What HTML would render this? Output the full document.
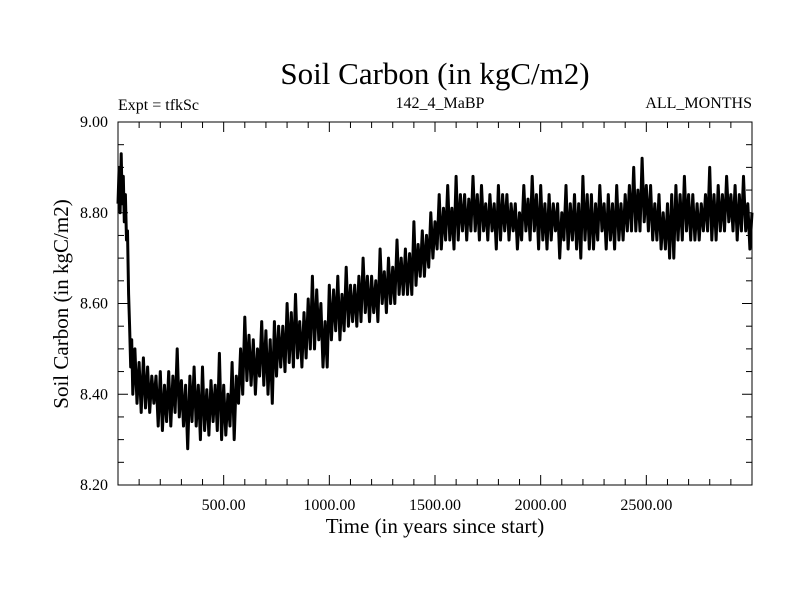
<!DOCTYPE html>
<html><head><meta charset="utf-8"><style>
body{margin:0;background:#fff;}
svg{display:block;font-family:"Liberation Serif",serif;}
</style></head><body>
<svg width="800" height="600" xmlns="http://www.w3.org/2000/svg">
<text x="435" y="84" font-size="31" text-anchor="middle">Soil Carbon (in kgC/m2)</text>
<text x="118" y="110" font-size="16">Expt = tfkSc</text>
<text x="440" y="108" font-size="16" text-anchor="middle">142_4_MaBP</text>
<text x="752" y="108" font-size="16" text-anchor="end">ALL_MONTHS</text>
<text x="435" y="533" font-size="21" text-anchor="middle">Time (in years since start)</text>
<text transform="translate(68,304) rotate(-90)" font-size="21" text-anchor="middle">Soil Carbon (in kgC/m2)</text>
<g id="axes"></g>
<path id="series" fill="none" stroke="#000" stroke-width="3" stroke-linejoin="round"/>
<rect x="118" y="122" width="634" height="363" fill="none" stroke="#000" stroke-width="1"/>
</svg>
<script>
const earlyYears=[0,5,10,15,20,25,30,35,40,45,50,55,60,65,70];
const earlyCarbon=[8.82,8.90,8.80,8.93,8.82,8.88,8.78,8.84,8.74,8.76,8.62,8.55,8.46,8.52,8.40];
const laterStartYear=80;
const laterStep=10;
const laterCarbon=[
8.50,8.38,8.47,8.36,8.48,8.37,8.46,8.36,8.44,8.38,
8.44,8.33,8.45,8.32,8.42,8.34,8.45,8.33,8.44,8.36,
8.50,8.35,8.43,8.33,8.42,8.28,8.44,8.34,8.46,8.33,
8.42,8.30,8.46,8.32,8.41,8.31,8.43,8.34,8.42,8.32,
8.49,8.30,8.42,8.31,8.40,8.33,8.47,8.30,8.44,8.38,
8.50,8.40,8.57,8.43,8.53,8.42,8.52,8.40,8.50,8.44,
8.56,8.42,8.54,8.40,8.52,8.38,8.56,8.44,8.55,8.46,
8.55,8.45,8.60,8.47,8.58,8.46,8.62,8.48,8.56,8.46,
8.58,8.48,8.61,8.50,8.66,8.50,8.63,8.52,8.60,8.46,
8.56,8.46,8.64,8.52,8.63,8.54,8.66,8.52,8.62,8.54,
8.68,8.55,8.64,8.56,8.64,8.55,8.66,8.56,8.70,8.58,
8.66,8.56,8.66,8.58,8.65,8.56,8.72,8.60,8.67,8.58,
8.70,8.60,8.68,8.60,8.74,8.62,8.70,8.62,8.72,8.62,
8.71,8.62,8.78,8.64,8.73,8.66,8.76,8.66,8.75,8.68,
8.80,8.70,8.78,8.72,8.84,8.72,8.81,8.74,8.86,8.74,
8.81,8.72,8.88,8.74,8.84,8.76,8.84,8.74,8.83,8.76,
8.88,8.76,8.84,8.74,8.86,8.76,8.82,8.74,8.84,8.76,
8.82,8.72,8.86,8.74,8.84,8.76,8.84,8.74,8.82,8.76,
8.82,8.72,8.80,8.74,8.86,8.76,8.83,8.74,8.88,8.76,
8.84,8.72,8.86,8.74,8.82,8.72,8.84,8.74,8.82,8.76,
8.82,8.70,8.80,8.74,8.86,8.72,8.82,8.74,8.84,8.72,
8.82,8.70,8.88,8.74,8.84,8.72,8.84,8.72,8.82,8.74,
8.86,8.76,8.82,8.72,8.84,8.74,8.82,8.72,8.86,8.74,
8.82,8.74,8.84,8.76,8.86,8.76,8.90,8.76,8.85,8.76,
8.92,8.78,8.86,8.76,8.86,8.74,8.82,8.74,8.84,8.72,
8.80,8.72,8.82,8.70,8.84,8.70,8.86,8.74,8.84,8.74,
8.88,8.76,8.84,8.74,8.84,8.74,8.82,8.74,8.82,8.76,
8.84,8.76,8.90,8.74,8.84,8.74,8.86,8.76,8.84,8.76,
8.88,8.78,8.84,8.76,8.86,8.74,8.84,8.76,8.88,8.76,
8.82,8.72,8.80];
const xTicks=[500,1000,1500,2000,2500];
const xTickLabels=["500.00","1000.00","1500.00","2000.00","2500.00"];
const yTicks=[8.2,8.4,8.6,8.8,9.0];
const yTickLabels=["8.20","8.40","8.60","8.80","9.00"];
const L=118,R=752,T=122,B=485,X0=0,X1=3000,Y0=8.2,Y1=9.0;
const sx=v=>L+(v-X0)/(X1-X0)*(R-L);
const sy=v=>B-(v-Y0)/(Y1-Y0)*(B-T);
const ns="http://www.w3.org/2000/svg";
const g=document.getElementById('axes');
function ln(x1,y1,x2,y2,name){const l=document.createElementNS(ns,'line');l.setAttribute('x1',x1);l.setAttribute('y1',y1);l.setAttribute('x2',x2);l.setAttribute('y2',y2);l.setAttribute('stroke','#000');l.setAttribute('stroke-width','1');


g.appendChild(l);}
function tx(x,y,s,anchor,name){const t=document.createElementNS(ns,'text');t.setAttribute('x',x);t.setAttribute('y',y);t.setAttribute('font-size','16');t.setAttribute('text-anchor',anchor);t.textContent=s;


g.appendChild(t);}
for(let v=100;v<X1;v+=100){const x=sx(v);const major=v%500===0;const len=major?10:6;ln(x,B,x,B-len,'x-tick');ln(x,T,x,T+len,'x-tick-top');}
for(let k=1;k<16;k++){const v=Y0+k*0.05;const y=sy(v);const major=k%4===0;const len=major?10:6;ln(L,y,L+len,y,'y-tick');ln(R,y,R-len,y,'y-tick-right');}
xTicks.forEach((v,i)=>tx(sx(v),510,xTickLabels[i],'middle','x-tick-label'));
yTicks.forEach((v,i)=>tx(108,sy(v)+5,yTickLabels[i],'end','y-tick-label'));
const years=earlyYears.concat(laterCarbon.map((_,i)=>laterStartYear+i*laterStep));
const carbon=earlyCarbon.concat(laterCarbon);
let d='';years.forEach((v,i)=>{d+=(i?'L':'M')+sx(v).toFixed(1)+','+sy(carbon[i]).toFixed(1);});
document.getElementById('series').setAttribute('d',d);
</script>
</body></html>
